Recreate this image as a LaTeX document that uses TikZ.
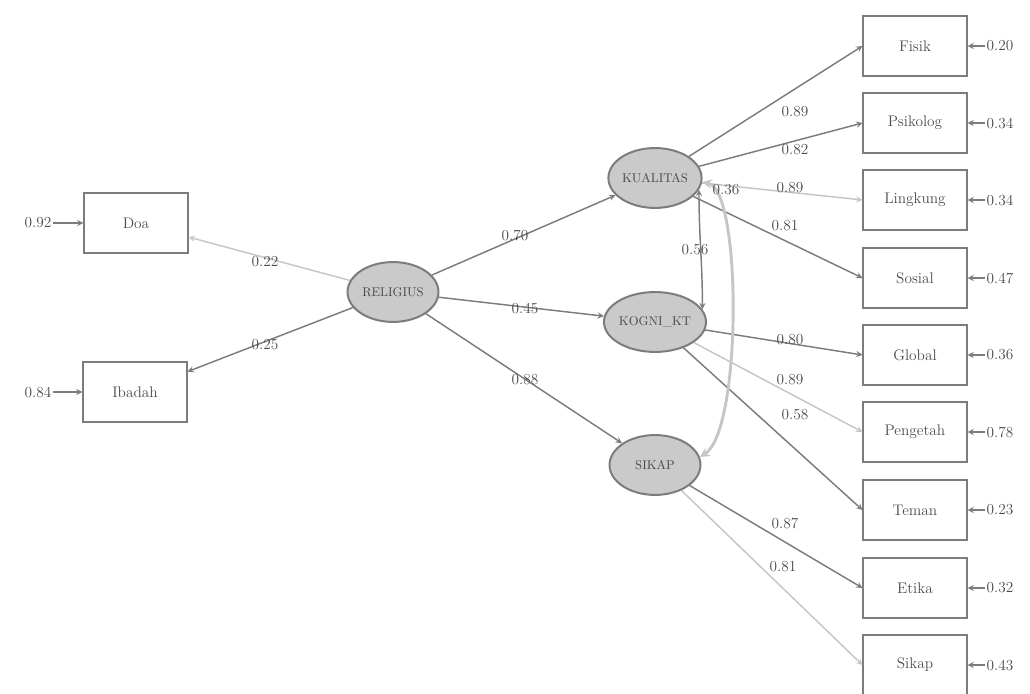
\documentclass[tikz,border=0pt]{standalone}
\usepackage{xcolor}
\definecolor{mline}{HTML}{7C7C7C}
\definecolor{mlight}{HTML}{C6C6C6}
\definecolor{mfill}{HTML}{CACACA}
\definecolor{mtext}{HTML}{4A4A4A}
\usepackage{tikz}
\usetikzlibrary{shapes.geometric}

\begin{document}
\begin{tikzpicture}[x=0.0264cm, y=-0.0264cm, >=stealth, font=\fontsize{11.5}{13}\selectfont]
        \tikzset{
            obs/.style={draw=mline, line width=1.5pt, text=mtext, minimum width=2.72cm, minimum height=1.6cm},
            lat/.style={ellipse, draw=mline, line width=1.5pt, fill=mfill, text=mtext, font=\fontsize{9.5}{10}\selectfont, minimum width=2.4cm, minimum height=1.58cm, inner sep=0pt},
            lab/.style={text=mtext, inner sep=1pt},
            load/.style={->, mline, line width=1.1pt},
            loadfaint/.style={->, mlight, line width=1.1pt},
        }
        \useasboundingbox (0, 0) rectangle (1030, 694);

        % latent variables
        \node[lat] (rel) at (393, 292) {RELIGIUS};
        \node[lat] (kual) at (655, 178) {KUALITAS};
        \node[lat] (kog) at (655, 322) {KOGNI\_KT};
        \node[lat] (sik) at (655, 465) {SIKAP};

        % indicators, left
        \node[obs] (doa) at (136, 223) {Doa};
        \node[obs] (iba) at (135, 392) {Ibadah};
        \node[lab] (edoa) at (38, 223) {0.92};
        \node[lab] (eiba) at (38, 392) {0.84};
        \draw[load] (edoa) -- (doa);
        \draw[load] (eiba) -- (iba);

        % indicators, right
        \node[obs] (fis) at (915, 46) {Fisik};
        \node[obs] (psi) at (915, 123) {Psikolog};
        \node[obs] (lin) at (915, 200) {Lingkung};
        \node[obs] (sos) at (915, 278) {Sosial};
        \node[obs] (glo) at (915, 355) {Global};
        \node[obs] (pen) at (915, 432) {Pengetah};
        \node[obs] (tem) at (915, 510) {Teman};
        \node[obs] (eti) at (915, 588) {Etika};
        \node[obs] (sip) at (915, 665) {Sikap};

        \node[lab, anchor=west] (efis) at (985, 46) {0.20};
        \node[lab, anchor=west] (epsi) at (985, 123) {0.34};
        \node[lab, anchor=west] (elin) at (985, 200) {0.34};
        \node[lab, anchor=west] (esos) at (985, 278) {0.47};
        \node[lab, anchor=west] (eglo) at (985, 355) {0.36};
        \node[lab, anchor=west] (epen) at (985, 432) {0.78};
        \node[lab, anchor=west] (etem) at (985, 510) {0.23};
        \node[lab, anchor=west] (eeti) at (985, 588) {0.32};
        \node[lab, anchor=west] (esip) at (985, 665) {0.43};
        \foreach \e/\b in {efis/fis, epsi/psi, elin/lin, esos/sos, eglo/glo, epen/pen, etem/tem, eeti/eti, esip/sip}
            \draw[load] (\e) -- (\b);

        % loadings
        \draw[loadfaint] (rel) -- (doa);
        \draw[load] (rel) -- (iba);
        \draw[load] (rel) -- (kual);
        \draw[load] (rel) -- (kog);
        \draw[load] (rel) -- (sik);
        \draw[load] (kual) -- (fis.west);
        \draw[load] (kual) -- (psi.west);
        \draw[loadfaint] (kual) -- (lin.west);
        \draw[load] (kual) -- (sos.west);
        \draw[load] (kog) -- (glo.west);
        \draw[loadfaint] (kog) -- (pen.west);
        \draw[load] (kog) -- (tem.west);
        \draw[load] (sik) -- (eti.west);
        \draw[loadfaint] (sik) -- (sip.west);

        % covariances
        \draw[<->, mline, line width=1.1pt] (kual.-15) to[out=-90, in=90] (kog.15);
        \draw[<->, mlight, line width=2.2pt] (kual.-5) .. controls (742, 190) and (742, 430) .. (sik.10);

        % estimates
        \node[lab] (l1) at (265, 262) {0.22};
        \node[lab] (l2) at (265, 345) {0.25};
        \node[lab] (l3) at (515, 235) {0.70};
        \node[lab] (l4) at (525, 308) {0.45};
        \node[lab] (l5) at (525, 380) {0.88};
        \node[lab] (l6) at (795, 112) {0.89};
        \node[lab] (l7) at (795, 150) {0.82};
        \node[lab] (l8) at (790, 188) {0.89};
        \node[lab] (l9) at (785, 226) {0.81};
        \node[lab] (l10) at (790, 340) {0.80};
        \node[lab] (l11) at (790, 380) {0.89};
        \node[lab] (l12) at (795, 415) {0.58};
        \node[lab] (l13) at (785, 523) {0.87};
        \node[lab] (l14) at (783, 567) {0.81};
        \node[lab] (c1) at (695, 250) {0.56};
        \node[lab] (c2) at (726, 190) {0.36};
    \end{tikzpicture}
\end{document}
